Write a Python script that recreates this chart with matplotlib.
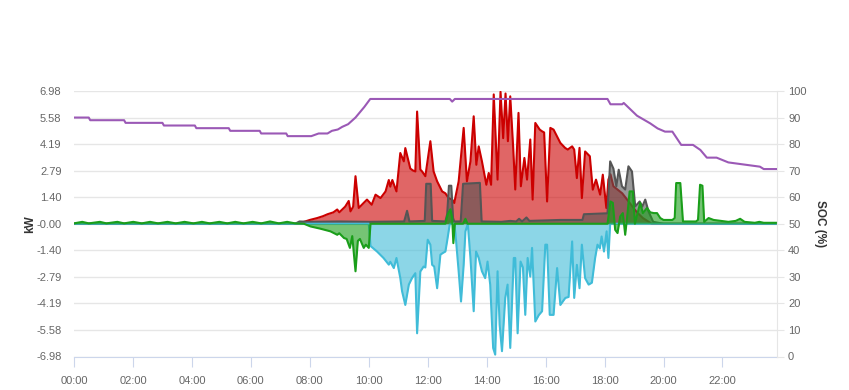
import numpy as np
import matplotlib
matplotlib.use("Agg")
import matplotlib.pyplot as plt

# ------------------------------
# Data (time in hours, power in kW, SOC in %)
# ------------------------------
soc_t = [0, 0.5, 0.55, 1.7, 1.75, 3.0, 3.05, 4.1, 4.15, 5.25, 5.3, 6.3, 6.35, 7.2, 7.25, 8.05,
         8.3, 8.6, 8.75, 8.95, 9.1, 9.3, 9.45, 9.55, 9.7, 9.85, 9.95, 10.05,
         12.75, 12.83, 12.92, 18.1, 18.2, 18.6, 18.65, 19.1, 19.55, 19.8, 20.05, 20.3,
         20.6, 21.0, 21.25, 21.47, 21.8, 22.2, 22.6, 23.27, 23.4, 23.85]
soc_v = [90, 90, 89, 89, 88, 88, 87, 87, 86, 86, 85, 85, 84, 84, 83, 83,
         84, 84, 85, 85.5, 86.5, 87.5, 89, 90, 92, 94, 95.5, 97,
         97, 96, 97, 97, 95, 95, 95.5, 90.7, 87.8, 85.9, 84.7, 84.7,
         79.7, 79.7, 77.8, 74.9, 74.9, 73.1, 72.5, 71.5, 70.6, 70.6]

red_t = [0, 7.55, 7.8, 8.0, 8.25, 8.45, 8.6, 8.8, 8.93, 9.0, 9.2, 9.32, 9.38, 9.47, 9.55, 9.66,
         9.83, 9.94, 10.1, 10.23, 10.4, 10.57, 10.68, 10.73, 10.8, 10.94, 11.07, 11.19, 11.24,
         11.41, 11.5, 11.58, 11.64, 11.75, 11.81, 11.92, 12.09, 12.2, 12.32, 12.49, 12.6, 12.71,
         12.83, 12.9, 13.05, 13.22, 13.33, 13.45, 13.56, 13.65, 13.73, 13.84, 13.99, 14.07,
         14.15, 14.24, 14.37, 14.47, 14.56, 14.64, 14.72, 14.8, 14.9, 14.97, 15.08, 15.16,
         15.28, 15.37, 15.48, 15.56, 15.65, 15.8, 15.88, 15.95, 16.05, 16.16, 16.27, 16.5,
         16.66, 16.75, 16.9, 16.97, 17.06, 17.15, 17.23, 17.34, 17.5, 17.6, 17.71, 17.85,
         17.94, 18.06, 18.13, 18.2, 18.3, 18.6, 18.9, 19.1, 19.3, 19.5, 19.6, 23.85]
red_v = [0, 0, 0.1, 0.2, 0.3, 0.4, 0.5, 0.6, 0.75, 0.6, 0.9, 1.2, 0.65, 0.9, 2.5, 0.83,
         1.1, 1.27, 1.0, 1.53, 1.35, 1.7, 2.3, 1.95, 2.3, 1.7, 3.72, 3.28, 3.98,
         2.9, 2.8, 2.75, 5.9, 2.85, 2.75, 2.5, 4.34, 2.75, 2.23, 1.7, 1.6, 1.35,
         1.27, 1.09, 2.23, 5.04, 2.23, 3.28, 5.65, 3.1, 4.07, 3.28, 2.05, 2.67,
         2.05, 6.8, 2.32, 6.94, 4.5, 6.85, 4.34, 6.7, 4.0, 1.8, 5.83, 1.97,
         3.46, 2.32, 4.43, 1.27, 5.3, 4.95, 4.86, 4.8, 1.17, 5.04, 4.95, 4.25,
         3.99, 3.9, 4.07, 3.9, 2.4, 3.99, 1.35, 3.8, 3.55, 1.79, 2.32, 1.53,
         2.58, 0.83, 2.32, 2.6, 1.97, 1.6, 1.0, 0.6, 0.3, 0.1, 0, 0]

gray_t = [0, 7.5, 7.65, 8.0, 9.0, 10.0, 11.2, 11.3, 11.38, 11.9, 11.95, 12.1, 12.15, 12.6,
          12.66, 12.72, 12.8, 12.86, 12.9, 13.12, 13.2, 13.77, 13.83, 14.5, 14.8, 15.0, 15.1,
          15.2, 15.35, 15.45, 16.5, 17.25, 17.3, 18.1, 18.19, 18.3, 18.4, 18.48, 18.59, 18.7,
          18.81, 18.93, 19.04, 19.19, 19.28, 19.38, 19.49, 19.65, 20.0, 23.85]
gray_v = [0, 0, 0.12, 0.1, 0.12, 0.1, 0.12, 0.68, 0.12, 0.15, 2.1, 2.1, 0.15, 0.12,
          0.5, 2.0, 2.0, 0.3, 0.12, 0.12, 2.1, 2.15, 0.12, 0.1, 0.15, 0.12, 0.26,
          0.12, 0.33, 0.15, 0.2, 0.2, 0.5, 0.55, 3.28, 2.9, 1.97, 2.84, 1.97, 1.8,
          3.02, 2.75, 0.91, 1.17, 0.9, 1.27, 0.65, 0.1, 0, 0]

green_t = [0, 0.28, 0.5, 0.88, 1.1, 1.47, 1.7, 2.01, 2.3, 2.58, 2.85, 3.17, 3.45, 3.75, 4.05,
           4.34, 4.6, 4.93, 5.2, 5.47, 5.75, 6.06, 6.35, 6.65, 6.95, 7.23, 7.5, 7.8, 8.02,
           8.36, 8.7, 8.93, 9.0, 9.16, 9.25, 9.36, 9.44, 9.55, 9.63, 9.7, 9.83, 9.9, 10.0,
           10.06, 12.6, 12.68, 12.77, 12.83, 12.87, 12.92, 13.2, 13.28, 13.35, 18.1, 18.2,
           18.28, 18.36, 18.44, 18.53, 18.62, 18.7, 18.78, 18.85, 18.96, 19.03, 19.12, 19.21,
           19.3, 19.44, 19.55, 19.67, 19.78, 19.89, 20.0, 20.3, 20.38, 20.43, 20.57, 20.66,
           21.1, 21.17, 21.24, 21.32, 21.38, 21.53, 21.7, 22.2, 22.45, 22.6, 22.75, 23.1,
           23.25, 23.4, 23.85]
green_v = [0.02, 0.1, 0.02, 0.1, 0.02, 0.1, 0.02, 0.1, 0.02, 0.1, 0.02, 0.1, 0.02, 0.1, 0.02,
           0.1, 0.02, 0.1, 0.02, 0.1, 0.02, 0.1, 0.02, 0.12, 0.02, 0.1, 0.02, 0, -0.14,
           -0.26, -0.4, -0.58, -0.5, -0.75, -0.8, -1.27, -0.65, -2.5, -0.9, -0.8, -1.27, -1.1, -1.27,
           0, 0, 0.5, 0.76, 0.3, -1.02, 0, 0, 0.26, 0, 0, 1.17,
           1.1, -0.32, -0.49, 0.38, 0.56, -0.58, 0.56, 1.7, 1.7, 0, 0.56, 1.1,
           0.56, 0.83, 0.6, 0.56, 0.56, 0.3, 0.2, 0.2, 0.3, 2.14, 2.14, 0.12,
           0.12, 0.2, 2.05, 2.0, 0.1, 0.3, 0.2, 0.1, 0.15, 0.26, 0.1, 0.05,
           0.1, 0.05, 0.05]

cyan_t = [0, 10.0, 10.06, 10.28, 10.5, 10.68, 10.73, 10.85, 10.94, 11.07, 11.13, 11.24, 11.36,
          11.47, 11.58, 11.64, 11.75, 11.86, 11.92, 12.0, 12.09, 12.15, 12.22, 12.32, 12.43,
          12.5, 12.6, 12.66, 12.75, 12.9, 12.94, 13.05, 13.13, 13.22, 13.28, 13.36, 13.45,
          13.56, 13.64, 13.73, 13.84, 13.95, 14.03, 14.12, 14.22, 14.29, 14.37, 14.44, 14.52,
          14.63, 14.71, 14.8, 14.92, 14.97, 15.05, 15.15, 15.23, 15.31, 15.39, 15.48, 15.54,
          15.65, 15.77, 15.88, 15.99, 16.05, 16.14, 16.27, 16.39, 16.5, 16.67, 16.78, 16.9,
          16.97, 17.06, 17.15, 17.23, 17.34, 17.46, 17.57, 17.68, 17.76, 17.84, 17.9, 17.98,
          18.07, 18.13, 18.19, 23.85]
cyan_v = [0, 0, -1.17, -1.46, -1.8, -2.15, -2.0, -2.33, -1.8, -2.85, -3.55, -4.27, -3.2,
          -2.85, -2.6, -5.76, -2.51, -2.25, -2.3, -0.84, -1.1, -2.16, -2.25, -3.39, -1.63,
          -1.55, -1.46, -0.9, 0, 0, -0.5, -2.5, -4.09, -2.16, -0.4, 0, -1.8,
          -4.6, -1.46, -1.8, -2.5, -2.86, -1.99, -3.2, -6.53, -6.88, -2.5, -5.3, -6.7,
          -3.9, -3.2, -6.53, -1.8, -1.8, -5.76, -1.99, -2.3, -4.79, -1.8, -2.78, -1.27,
          -5.14, -4.8, -4.6, -1.1, -1.1, -4.79, -4.79, -2.33, -4.27, -3.9, -3.85, -0.93,
          -3.9, -2.16, -3.39, -1.1, -2.86, -3.2, -3.1, -1.8, -1.1, -1.3, -0.67, -1.46,
          -0.4, -1.8, 0, 0]

kw_ticks = [6.98, 5.58, 4.19, 2.79, 1.40, 0.0, -1.40, -2.79, -4.19, -5.58, -6.98]
kw_labels = ["6.98", "5.58", "4.19", "2.79", "1.40", "-0.00", "-1.40", "-2.79", "-4.19", "-5.58", "-6.98"]
soc_ticks = [0, 10, 20, 30, 40, 50, 60, 70, 80, 90, 100]
hour_ticks = [0, 2, 4, 6, 8, 10, 12, 14, 16, 18, 20, 22]
hour_labels = ["00:00", "02:00", "04:00", "06:00", "08:00", "10:00", "12:00",
               "14:00", "16:00", "18:00", "20:00", "22:00"]

# ------------------------------
# Plot
# ------------------------------
plt.rcParams['font.family'] = ['Liberation Sans', 'DejaVu Sans']

fig = plt.figure(figsize=(8.49, 3.9), dpi=100)
ax = fig.add_axes([74/849, 1-356.5/390, 703/849, 265.5/390])

series = [
    (red_t, red_v, '#cc0000'),
    (gray_t, gray_v, '#555555'),
    (cyan_t, cyan_v, '#40bcd8'),
    (green_t, green_v, '#1a9e1a'),
]
z = 2
for t, v, c in series:
    ax.fill_between(t, v, 0, color=c, alpha=0.6, lw=0, zorder=z)
    ax.plot(t, v, color=c, lw=1.5, zorder=z + 0.5, solid_joinstyle='round')
    z += 1

ax.set_xlim(0, 23.85)
ax.set_ylim(-6.98, 6.98)
ax.set_yticks(kw_ticks)
ax.set_yticklabels(kw_labels)
ax.set_xticks(hour_ticks)
ax.set_xticklabels(hour_labels)
ax.grid(axis='y', color='#e6e6e6', lw=1)
ax.set_axisbelow(True)
for s in ['top', 'left', 'right']:
    ax.spines[s].set_visible(False)
ax.spines['bottom'].set_color('#ccd6eb')
ax.tick_params(axis='x', length=7, color='#ccd6eb', labelcolor='#666666', labelsize=8, pad=7)
ax.tick_params(axis='y', length=0, labelcolor='#666666', labelsize=8, pad=9)
ax.set_ylabel("kW", fontsize=8.5, fontweight='bold', color='#333333', labelpad=0)

ax2 = ax.twinx()
ax2.plot(soc_t, soc_v, color='#9b59b6', lw=1.5, zorder=10)
ax2.set_ylim(0, 100)
ax2.set_yticks(soc_ticks)
for s in ['top', 'left', 'bottom']:
    ax2.spines[s].set_visible(False)
ax2.spines['right'].set_color('#e6e6e6')
ax2.tick_params(axis='y', length=5, color='#e6e6e6', labelcolor='#666666', labelsize=8, pad=3)
ax2.set_ylabel("SOC (%)", fontsize=8.5, fontweight='bold', color='#333333', rotation=270, labelpad=14)

fig.savefig("out.png", dpi=100)
